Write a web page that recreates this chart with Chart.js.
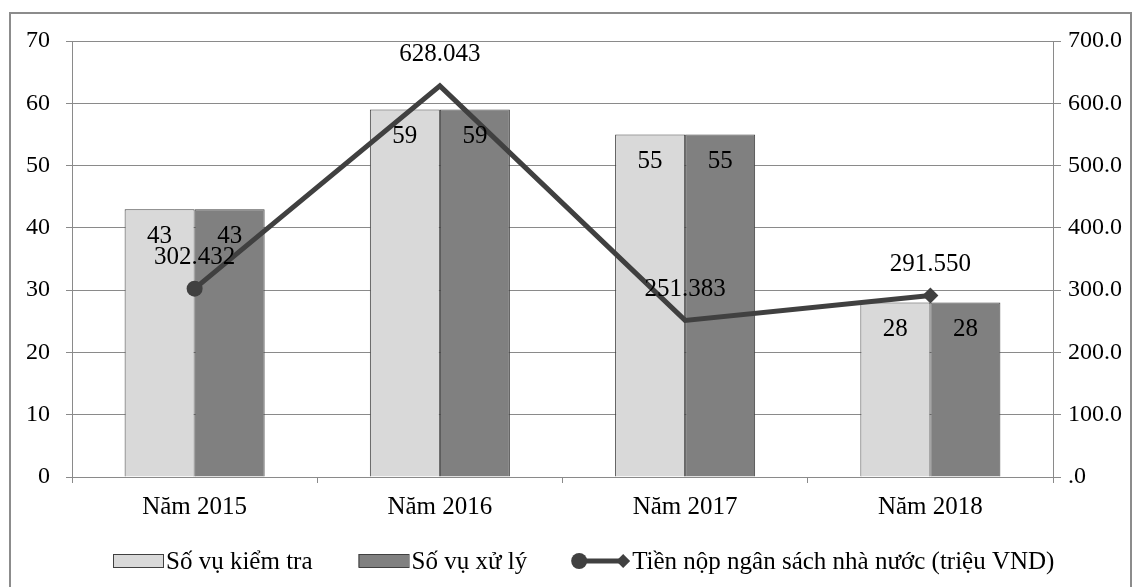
<!DOCTYPE html>
<html>
<head>
<meta charset="utf-8">
<script src="https://cdn.jsdelivr.net/npm/chart.js@4"></script>
<style>
  html, body { margin: 0; padding: 0; background: #ffffff; }
  #wrap { width: 1135px; height: 587px; position: relative; }
</style>
</head>
<body>
<div id="wrap"><canvas id="c" width="1135" height="587"></canvas></div>
<script>
const categories = ['Năm 2015', 'Năm 2016', 'Năm 2017', 'Năm 2018'];
const inspectedCases = [43, 59, 55, 28];
const handledCases = [43, 59, 55, 28];
const budgetPaid = [302.432, 628.043, 251.383, 291.550];
const leftTicks = [0, 10, 20, 30, 40, 50, 60, 70];
const rightTicks = [0, 100, 200, 300, 400, 500, 600, 700];
const seriesNames = ['Số vụ kiểm tra', 'Số vụ xử lý', 'Tiền nộp ngân sách nhà nước (triệu VND)'];

const FONT = "'Liberation Serif', 'Times New Roman', serif";
const GRID = '#8a8a8a';
const LIGHT = '#d9d9d9';
const DARK = '#808080';
const EDGE = '#404040';
const LINE = '#404040';

Chart.defaults.font.family = FONT;
Chart.defaults.color = '#000000';

const frame = {
  id: 'frame',
  beforeDraw(chart) {
    const ctx = chart.ctx;
    ctx.save();
    ctx.fillStyle = '#ffffff';
    ctx.fillRect(0, 0, chart.width, chart.height);
    ctx.strokeStyle = '#8c8c8c';
    ctx.lineWidth = 2;
    ctx.strokeRect(10, 13, 1121, 600);
    ctx.restore();
  }
};

const valueLabels = {
  id: 'valueLabels',
  afterDatasetsDraw(chart) {
    const ctx = chart.ctx;
    ctx.save();
    ctx.fillStyle = '#000000';
    ctx.font = '25px ' + FONT;
    ctx.textAlign = 'center';
    ctx.textBaseline = 'middle';
    chart.data.datasets.forEach((ds, di) => {
      const meta = chart.getDatasetMeta(di);
      meta.data.forEach((el, i) => {
        const v = ds.data[i];
        if (ds.type === 'line') {
          ctx.fillText(v.toFixed(3), el.x, el.y - 31);
        } else {
          ctx.fillText(String(v), el.x, el.y + 27);
        }
      });
    });
    ctx.restore();
  }
};

const customLegend = {
  id: 'customLegend',
  afterDraw(chart) {
    const ctx = chart.ctx;
    ctx.save();
    ctx.font = '25px ' + FONT;
    ctx.textBaseline = 'alphabetic';
    ctx.textAlign = 'left';
    const yMid = 561;
    const base = 569;
    let x = 113;
    // item 1
    ctx.fillStyle = LIGHT; ctx.strokeStyle = EDGE; ctx.lineWidth = 1;
    ctx.fillRect(x, 554, 50, 13); ctx.strokeRect(x + 0.5, 554.5, 50, 13);
    ctx.fillStyle = '#000';
    ctx.fillText(seriesNames[0], x + 53, base);
    x = x + 53 + ctx.measureText(seriesNames[0]).width + 46;
    // item 2
    ctx.fillStyle = DARK;
    ctx.fillRect(x, 554, 50, 13); ctx.strokeRect(x + 0.5, 554.5, 50, 13);
    ctx.fillStyle = '#000';
    ctx.fillText(seriesNames[1], x + 53, base);
    x = x + 53 + ctx.measureText(seriesNames[1]).width + 44;
    // item 3: line with circle and diamond
    ctx.strokeStyle = LINE; ctx.lineWidth = 5;
    ctx.beginPath(); ctx.moveTo(x + 8, yMid); ctx.lineTo(x + 52, yMid); ctx.stroke();
    ctx.fillStyle = LINE;
    ctx.beginPath(); ctx.arc(x + 8, yMid, 8, 0, Math.PI * 2); ctx.fill();
    ctx.beginPath();
    ctx.moveTo(x + 52, yMid - 7); ctx.lineTo(x + 59, yMid); ctx.lineTo(x + 52, yMid + 7); ctx.lineTo(x + 45, yMid);
    ctx.closePath(); ctx.fill();
    ctx.fillStyle = '#000';
    ctx.fillText(seriesNames[2], x + 61, base);
    ctx.restore();
  }
};

new Chart(document.getElementById('c'), {
  data: {
    labels: categories,
    datasets: [
      {
        type: 'bar', label: seriesNames[0], data: inspectedCases, yAxisID: 'y',
        backgroundColor: LIGHT, borderColor: EDGE, borderWidth: 1, order: 2,
        categoryPercentage: 0.571, barPercentage: 1.0
      },
      {
        type: 'bar', label: seriesNames[1], data: handledCases, yAxisID: 'y',
        backgroundColor: DARK, borderColor: EDGE, borderWidth: 1, order: 2,
        categoryPercentage: 0.571, barPercentage: 1.0
      },
      {
        type: 'line', label: seriesNames[2], data: budgetPaid, yAxisID: 'y1',
        borderColor: LINE, borderWidth: 5, backgroundColor: LINE, fill: false, tension: 0,
        pointStyle: ['circle', 'circle', 'circle', 'rectRot'],
        pointRadius: [8, 0, 0, 8], pointBorderWidth: 0, pointBackgroundColor: LINE,
        pointBorderColor: LINE, order: 0
      }
    ]
  },
  options: {
    responsive: false,
    animation: false,
    devicePixelRatio: 1,
    layout: { padding: { top: 41, left: 0, right: 0, bottom: 0 } },
    plugins: { legend: { display: false }, tooltip: { enabled: false }, title: { display: false } },
    scales: {
      x: {
        offset: true,
        grid: { offset: true, drawOnChartArea: false, drawTicks: true, tickLength: 6, color: GRID, lineWidth: 1 },
        border: { display: true, color: GRID, width: 1 },
        ticks: { font: { size: 25, family: FONT }, color: '#000', padding: 9, maxRotation: 0 },
        afterFit(s) { s.height = 110; }
      },
      y: {
        position: 'left', min: 0, max: 70,
        afterBuildTicks(s) { s.ticks = leftTicks.map(v => ({ value: v })); },
        grid: { drawOnChartArea: true, drawTicks: true, tickLength: 6, color: GRID, lineWidth: 1 },
        border: { display: true, color: GRID, width: 1 },
        ticks: { font: { size: 24, family: FONT }, color: '#000', padding: 16 },
        afterFit(s) { s.width = 72; }
      },
      y1: {
        position: 'right', min: 0, max: 700,
        afterBuildTicks(s) { s.ticks = rightTicks.map(v => ({ value: v })); },
        grid: { drawOnChartArea: false, drawTicks: true, tickLength: 8, color: GRID, lineWidth: 1 },
        border: { display: true, color: GRID, width: 1 },
        ticks: { font: { size: 24, family: FONT }, color: '#000', padding: 7,
          callback: v => v === 0 ? '.0' : Number(v).toFixed(1) },
        afterFit(s) { s.width = 82; }
      }
    }
  },
  plugins: [frame, valueLabels, customLegend]
});
</script>
</body>
</html>
